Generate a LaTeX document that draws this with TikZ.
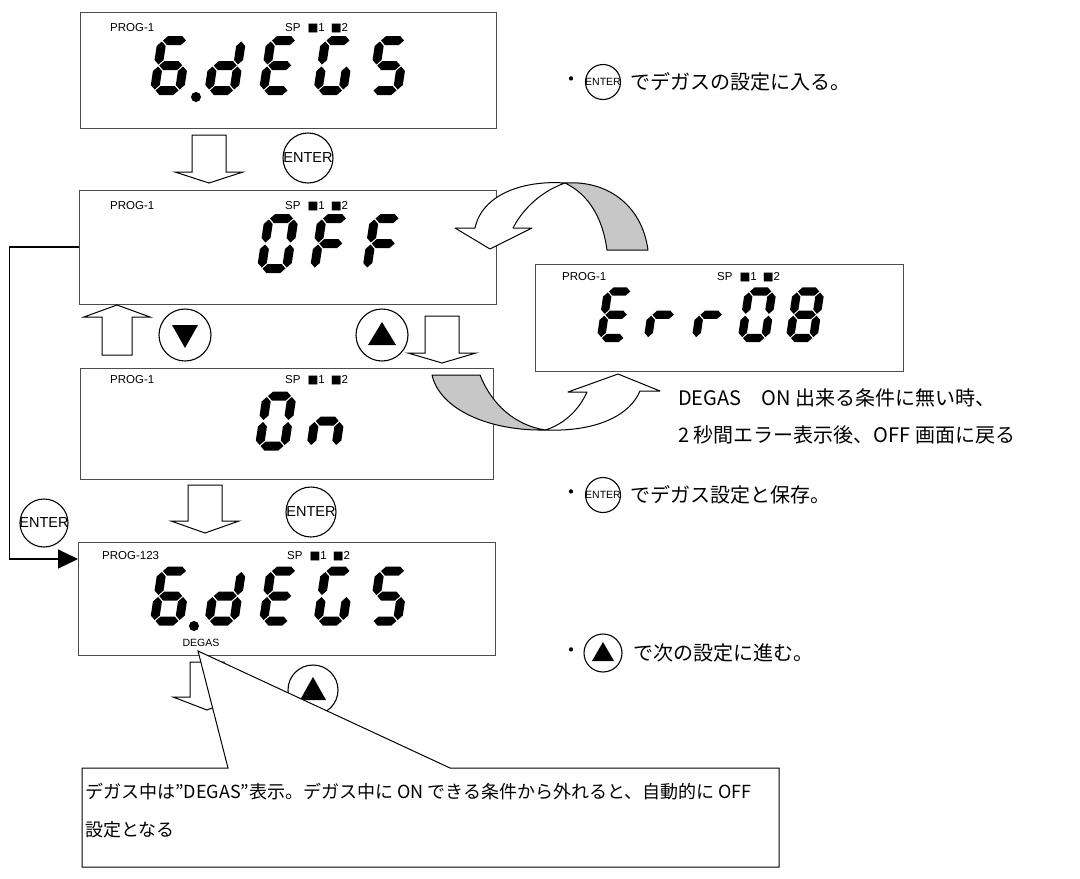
\documentclass[tikz,border=0pt]{standalone}
\usepackage{fontspec}
\setmainfont{Liberation Sans}
\newfontfamily\jpfont{Noto Sans CJK JP}
\newfontfamily\symfont{DejaVu Sans}
\usetikzlibrary{arrows.meta,calc}

% seven segment pieces (local units, y grows downwards)
\newcommand\segH[3]{\fill (#1+1,#3) -- (#1+5.5,#3-4.5) -- (#2-5.5,#3-4.5) -- (#2-1,#3) -- (#2-5.5,#3+4.5) -- (#1+5.5,#3+4.5) -- cycle;}
\newcommand\segV[3]{\fill (#1,#2+1) -- (#1+4.5,#2+5.5) -- (#1+4.5,#3-5.5) -- (#1,#3-1) -- (#1-4.5,#3-5.5) -- (#1-4.5,#2+5.5) -- cycle;}
\def\dsega{\segH{0}{25}{-50}}
\def\dsegb{\segV{25}{-50}{-25}}
\def\dsegc{\segV{25}{-25}{0}}
\def\dsegd{\segH{0}{25}{0}}
\def\dsege{\segV{0}{-25}{0}}
\def\dsegf{\segV{0}{-50}{-25}}
\def\dsegg{\segH{0}{25}{-25}}
\newcommand\sevseg[4]{%
  \begin{scope}[shift={(#1,#2)},xslant=0.15,scale=#3]
    \foreach \s in {#4} {\csname dseg\s\endcsname}
  \end{scope}}
% hollow block arrows
\newcommand\hdown[4]{\draw[blk] (#1-17,#2) -- (#1+17,#2) -- (#1+17,#3) -- (#1+34,#3) -- (#1,#4) -- (#1-34,#3) -- (#1-17,#3) -- cycle;}
\newcommand\hup[4]{\draw[blk] (#1-15,#2) -- (#1+15,#2) -- (#1+15,#3) -- (#1+33,#3) -- (#1,#4) -- (#1-33,#3) -- (#1-15,#3) -- cycle;}
\newcommand\sqm{{\symfont\char"25A0}}
\newcommand\spmarks{SP\hspace{7pt}\sqm1\hspace{6pt}\sqm2}

\begin{document}
\begin{tikzpicture}[x=1pt,y=-1pt,
  disp/.style={draw=black!70, line width=0.9pt, inner sep=0pt},
  tag/.style={font=\fontsize{11.5}{12}\selectfont, anchor=west, inner sep=0pt},
  blk/.style={draw, fill=white, line width=1pt},
  btn/.style={draw, circle, line width=1.1pt, inner sep=0pt, fill=white},
  btntext/.style={font=\fontsize{14.5}{15}\selectfont, inner sep=0pt},
  smalltext/.style={font=\fontsize{10.5}{11}\selectfont, inner sep=0pt},
  note/.style={font=\jpfont\fontsize{20}{20}\selectfont, anchor=west, inner sep=0pt},
  callnote/.style={font=\jpfont\fontsize{18}{18}\selectfont, anchor=west, inner sep=0pt},
  ribbon/.style={draw, line width=1pt, line join=round},
]
\useasboundingbox (0,0) rectangle (1080,879);

% displays
\node[disp, minimum width=416pt, minimum height=116pt] (topbox) at (288,70) {};
\node[disp, minimum width=417pt, minimum height=114pt] (offbox) at (287.5,247) {};
\node[disp, minimum width=413pt, minimum height=111pt] (onbox) at (286.5,423.5) {};
\node[disp, minimum width=417pt, minimum height=113pt] (botbox) at (286.5,598.5) {};
\node[disp, minimum width=368pt, minimum height=107pt] (errbox) at (719,317.5) {};

\node[tag] (toptag) at (110,28) {PROG-1};
\node[tag] (topsp) at (285,28) {\spmarks};
\node[tag] (offtag) at (110,206) {PROG-1};
\node[tag] (offsp) at (285,206) {\spmarks};
\node[tag] (ontag) at (110,380) {PROG-1};
\node[tag] (onsp) at (285,380) {\spmarks};
\node[tag] (bottag) at (102,556) {PROG-123};
\node[tag] (botsp) at (287,556) {\spmarks};
\node[tag, anchor=center, font=\fontsize{10.5}{11}\selectfont] (degas) at (201,643) {DEGAS};
\node[tag] (errtag) at (562,277) {PROG-1};
\node[tag] (errsp) at (717,277) {\spmarks};

% 6.dEGS
\sevseg{154.5}{90.5}{1}{a,c,d,e,f,g}
\fill (196,97) circle (5pt);
\sevseg{209}{90.5}{1}{b,c,d,e,g}
\sevseg{263.5}{90.5}{1}{a,d,e,f,g}
\sevseg{318}{90.5}{1}{a,c,d,e,f}
\sevseg{372.5}{90.5}{1}{a,c,d,f,g}
% OFF
\sevseg{261.5}{268.5}{1}{a,b,c,d,e,f}
\sevseg{314.5}{268.5}{1}{a,e,f,g}
\sevseg{367}{268.5}{1}{a,e,f,g}
% On
\sevseg{259.5}{446}{1}{a,b,c,d,e,f}
\sevseg{311}{446}{1}{c,e,g}
% 6.dEGS again
\sevseg{154.5}{621}{1}{a,c,d,e,f,g}
\fill (194,626) circle (5pt);
\sevseg{209}{621}{1}{b,c,d,e,g}
\sevseg{263.5}{621}{1}{a,d,e,f,g}
\sevseg{318}{621}{1}{a,c,d,e,f}
\sevseg{372.5}{621}{1}{a,c,d,f,g}
% Err08
\sevseg{601}{338}{0.93}{a,d,e,f,g}
\sevseg{648}{338}{0.93}{e,g}
\sevseg{696}{338}{0.93}{e,g}
\sevseg{742}{338}{0.93}{a,b,c,d,e,f}
\sevseg{790}{338}{0.93}{a,b,c,d,e,f,g}

% block arrows
\hdown{209}{135}{172}{183}
\hup{117}{355}{317}{305}
\hdown{442}{316}{353}{363}
\hdown{205}{485}{521}{533}
\hdown{207}{662}{697}{710}

% twisted arrows
\filldraw[ribbon, fill=black!22] (565,183) .. controls (607,180) and (642,205) .. (648,250) -- (607,250) .. controls (603,220) and (590,195) .. cycle;
\filldraw[ribbon, fill=white] (565,183) .. controls (522,180) and (482,195) .. (475,228) -- (455,228) -- (490,249) -- (532,228) -- (513,228) .. controls (525,205) and (545,190) .. cycle;
\filldraw[ribbon, fill=black!22] (432,375) -- (480,375) .. controls (492,405) and (515,425) .. (545,430) .. controls (490,431) and (440,410) .. cycle;
\filldraw[ribbon, fill=white] (545,430) .. controls (597,432) and (630,415) .. (640,391) -- (660,391) -- (618,374) -- (568,392) -- (587,392) .. controls (578,412) and (562,425) .. cycle;

% buttons
\node[btn, minimum size=50pt, label={[btntext]center:ENTER}] (enter1) at (308,158) {};
\node[btn, minimum size=52pt] (dnbtn) at (185,335) {};
\fill ([shift={(-13,-10)}]dnbtn.center) -- ([shift={(13,-10)}]dnbtn.center) -- ([shift={(0,13)}]dnbtn.center) -- cycle;
\node[btn, minimum size=52pt] (upbtn) at (382,335) {};
\fill ([shift={(-14,10)}]upbtn.center) -- ([shift={(14,10)}]upbtn.center) -- ([shift={(0,-13)}]upbtn.center) -- cycle;
\node[btn, minimum size=50pt, label={[btntext]center:ENTER}] (enter2) at (311,512) {};
\node[btn, minimum size=48pt, label={[btntext]center:ENTER}] (enter3) at (44,523) {};
\node[btn, minimum size=50pt] (nextbtn) at (313,690) {};
\fill ([shift={(-13,10)}]nextbtn.center) -- ([shift={(13,10)}]nextbtn.center) -- ([shift={(0,-13)}]nextbtn.center) -- cycle;

% return line
\coordinate (botin) at (78,559);
\draw[line width=1.2pt, -{Triangle[length=20pt,width=19pt]}] (offbox.west) -- ++(-69,0) |- (botin);

% callout
\coordinate (degtip) at (198,651);
\filldraw[fill=white, line width=1pt] (82,768) -- (228,768) -- (degtip) -- (450,768) -- (779,768) -- (779,867) -- (82,867) -- cycle;
\node[callnote] (call1) at (85,792) {デガス中は”DEGAS”表示。デガス中に ON できる条件から外れると、自動的に OFF};
\node[callnote] (call2) at (85,830) {設定となる};

% notes on the right
\node[note, anchor=center] (bul1) at (571,82) {・};
\node[btn, minimum size=35pt, label={[smalltext]center:ENTER}] (enter4) at (603,82) {};
\node[note] (note1) at (630,82) {でデガスの設定に入る。};
\node[note] (note2) at (678,398) {DEGAS\quad ON 出来る条件に無い時、};
\node[note] (note3) at (678,435) {2 秒間エラー表示後、OFF 画面に戻る};
\node[note, anchor=center] (bul2) at (571,495) {・};
\node[btn, minimum size=35pt, label={[smalltext]center:ENTER}] (enter5) at (603,495) {};
\node[note] (note4) at (630,495) {でデガス設定と保存。};
\node[note, anchor=center] (bul3) at (571,653) {・};
\node[btn, minimum size=38pt] (nextbtn2) at (603,653) {};
\fill ([shift={(-11,8)}]nextbtn2.center) -- ([shift={(11,8)}]nextbtn2.center) -- ([shift={(0,-11)}]nextbtn2.center) -- cycle;
\node[note] (note5) at (633,653) {で次の設定に進む。};
\end{tikzpicture}
\end{document}
